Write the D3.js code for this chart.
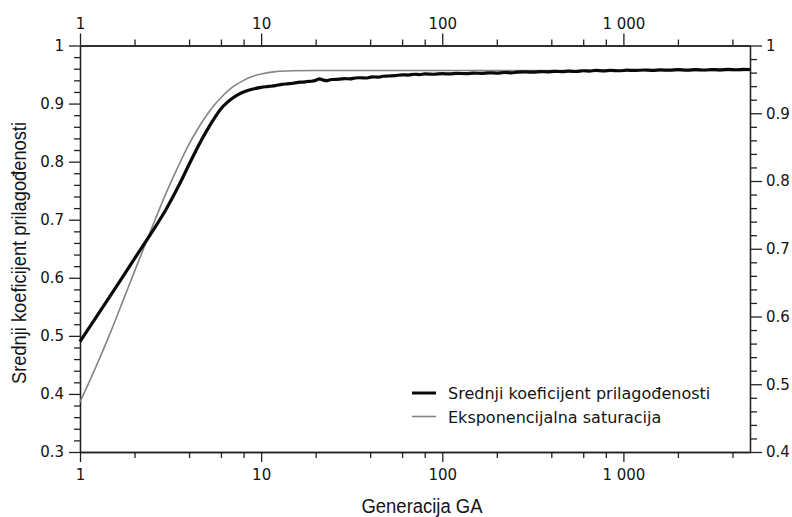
<!DOCTYPE html>
<html>
<head>
<meta charset="utf-8">
<script src="https://cdn.jsdelivr.net/npm/d3@7"></script>
<style>
  body { margin: 0; background: #fff; }
  svg { display: block; }
</style>
</head>
<body>
<svg id="chart"></svg>
<script>
// generations and mean fitness (black line)
const generations = [1, 1.5, 2, 2.5, 3, 3.5, 4, 4.5, 5, 5.5, 6, 6.5, 7, 7.5, 8, 9, 10, 11, 12, 13, 14, 15, 16, 17, 18, 19, 20,
  21, 22, 23, 24, 25, 27, 29, 31, 33, 35, 38, 41, 44, 47, 50, 55, 60, 65, 70, 75, 80, 90, 100, 110, 120, 135, 150, 165,
  180, 200, 220, 240, 260, 290, 320, 350, 380, 420, 460, 500, 550, 600, 650, 700, 780, 850, 950, 1050, 1150, 1300,
  1450, 1600, 1800, 2000, 2250, 2500, 2800, 3100, 3400, 3800, 4200, 4600, 5000];
const meanFitness = [0.490, 0.573, 0.633, 0.679, 0.719, 0.758, 0.795, 0.827, 0.853, 0.874, 0.891, 0.902, 0.910, 0.916, 0.920,
  0.925, 0.928, 0.9295, 0.931, 0.933, 0.934, 0.935, 0.9365, 0.937, 0.938, 0.9385, 0.940,
  0.9425, 0.9405, 0.9395, 0.941, 0.9415, 0.942, 0.943, 0.9425, 0.944, 0.9445, 0.944, 0.946, 0.9455, 0.947, 0.9475, 0.948,
  0.9495, 0.949, 0.9505, 0.950, 0.951, 0.9505, 0.9515, 0.951, 0.952, 0.9515, 0.9525, 0.952,
  0.953, 0.9525, 0.9535, 0.953, 0.954, 0.9545, 0.954, 0.955, 0.9545, 0.9555, 0.955, 0.9558, 0.9552, 0.9565, 0.956, 0.957,
  0.9563, 0.9572, 0.9565, 0.9575, 0.957, 0.9578, 0.9572, 0.958, 0.9575, 0.9583, 0.9577, 0.9585, 0.9578, 0.9586, 0.958,
  0.9588, 0.9582, 0.959, 0.9587];

// exponential saturation (grey line)
const expGenerations = [1, 1.25, 1.5, 1.75, 2, 2.5, 3, 3.5, 4, 4.5, 5, 5.5, 6, 7, 8, 9, 10, 12, 15, 20, 50, 200, 1000, 5000];
const expSaturation = [0.386, 0.453, 0.512, 0.565, 0.611, 0.687, 0.747, 0.793, 0.830, 0.858, 0.880, 0.897, 0.910, 0.929,
  0.940, 0.947, 0.951, 0.955, 0.9565, 0.957, 0.957, 0.957, 0.957, 0.957];

const xMajor = [1, 10, 100, 1000];
const xMinor = [2, 4, 6, 8, 20, 40, 60, 80, 200, 400, 600, 800, 2000, 4000];
const xLabels = ["1", "10", "100", "1 000"];
const leftMajor = [0.3, 0.4, 0.5, 0.6, 0.7, 0.8, 0.9, 1];
const rightMajor = [0.4, 0.5, 0.6, 0.7, 0.8, 0.9, 1];

const seriesNames = ["Srednji koeficijent prilagođenosti", "Eksponencijalna saturacija"];
const xTitle = "Generacija GA";
const yTitle = "Srednji koeficijent prilagođenosti";

const width = 792, height = 517;
const plot = {left: 80, right: 750, top: 45.5, bottom: 452};

const svg = d3.select("#chart").attr("width", width).attr("height", height);

const x = d3.scaleLog().domain([1, 5000]).range([plot.left, plot.right]);
const yLeft = d3.scaleLinear().domain([0.3, 1]).range([plot.bottom, plot.top]);
const yRight = d3.scaleLinear().domain([0.4, 1]).range([plot.bottom, plot.top]);

function minorsOf(domain) {
  // every 0.02 between the domain ends
  const out = [];
  for (let i = Math.round(domain[0] * 50); i <= Math.round(domain[1] * 50); i++) {
    if (i % 5 !== 0) out.push(i / 50);
  }
  return out;
}

const tickFont = "'DejaVu Sans', Verdana, sans-serif";
const textCol = "#141414";

function styleAxis(g) {
  g.selectAll("path, line").attr("stroke", "#222").attr("stroke-width", 1.3);
  g.selectAll("text").style("font-family", tickFont).style("font-size", "15px").attr("fill", textCol);
}

// bottom axis
svg.append("g").attr("transform", `translate(0,${plot.bottom})`)
  .call(d3.axisBottom(x).tickValues(xMinor).tickSize(6).tickSizeOuter(0).tickFormat(""))
  .call(styleAxis);
svg.append("g").attr("transform", `translate(0,${plot.bottom})`)
  .call(d3.axisBottom(x).tickValues(xMajor).tickSize(10).tickSizeOuter(0).tickPadding(7)
    .tickFormat((d, i) => xLabels[i]))
  .call(styleAxis);

// top axis
svg.append("g").attr("transform", `translate(0,${plot.top})`)
  .call(d3.axisTop(x).tickValues(xMinor).tickSize(6).tickSizeOuter(0).tickFormat(""))
  .call(styleAxis);
svg.append("g").attr("transform", `translate(0,${plot.top})`)
  .call(d3.axisTop(x).tickValues(xMajor).tickSize(12).tickSizeOuter(0).tickPadding(5)
    .tickFormat((d, i) => xLabels[i]))
  .call(styleAxis);

// left axis
svg.append("g").attr("transform", `translate(${plot.left},0)`)
  .call(d3.axisLeft(yLeft).tickValues(minorsOf([0.3, 1])).tickSize(6).tickSizeOuter(0).tickFormat(""))
  .call(styleAxis);
svg.append("g").attr("transform", `translate(${plot.left},0)`)
  .call(d3.axisLeft(yLeft).tickValues(leftMajor).tickSize(11).tickSizeOuter(0).tickPadding(5)
    .tickFormat(d3.format("~g")))
  .call(styleAxis);

// right axis
svg.append("g").attr("transform", `translate(${plot.right},0)`)
  .call(d3.axisRight(yRight).tickValues(minorsOf([0.4, 1])).tickSize(7).tickSizeOuter(0).tickFormat(""))
  .call(styleAxis);
svg.append("g").attr("transform", `translate(${plot.right},0)`)
  .call(d3.axisRight(yRight).tickValues(rightMajor).tickSize(12).tickSizeOuter(0).tickPadding(4)
    .tickFormat(d3.format("~g")))
  .call(styleAxis);

// lines
const smooth = d3.line().x(d => x(d[0])).y(d => yLeft(d[1])).curve(d3.curveMonotoneX);

svg.append("path")
  .datum(expGenerations.map((g, i) => [g, expSaturation[i]]))
  .attr("fill", "none").attr("stroke", "#858585").attr("stroke-width", 1.6)
  .attr("d", smooth);

svg.append("path")
  .datum(generations.map((g, i) => [g, meanFitness[i]]))
  .attr("fill", "none").attr("stroke", "#0a0a0a").attr("stroke-width", 3.2)
  .attr("stroke-linejoin", "round")
  .attr("d", smooth);

// legend
const legend = svg.append("g").attr("transform", "translate(412,393)");
const legendCols = ["#0a0a0a", "#858585"];
const legendW = [3, 1.6];
seriesNames.forEach((name, i) => {
  const row = legend.append("g").attr("transform", `translate(0,${i * 23.5})`);
  row.append("line").attr("x1", 0).attr("x2", 24).attr("y1", 0).attr("y2", 0)
    .attr("stroke", legendCols[i]).attr("stroke-width", legendW[i]);
  row.append("text").attr("x", 36).attr("y", 6)
    .style("font-family", tickFont).style("font-size", "16px").attr("fill", textCol)
    .text(name);
});

// axis titles
const titleFont = "'Liberation Sans Narrow', 'Arial Narrow', 'Liberation Sans', sans-serif";
svg.append("text")
  .attr("x", 422).attr("y", 513).attr("text-anchor", "middle")
  .attr("textLength", 121).attr("lengthAdjust", "spacingAndGlyphs")
  .style("font-family", titleFont).style("font-size", "19.5px").attr("fill", textCol)
  .text(xTitle);

svg.append("text")
  .attr("transform", "translate(25.5,253) rotate(-90)")
  .attr("text-anchor", "middle")
  .attr("textLength", 262).attr("lengthAdjust", "spacingAndGlyphs")
  .style("font-family", titleFont).style("font-size", "19.5px").attr("fill", textCol)
  .text(yTitle);
</script>
</body>
</html>
